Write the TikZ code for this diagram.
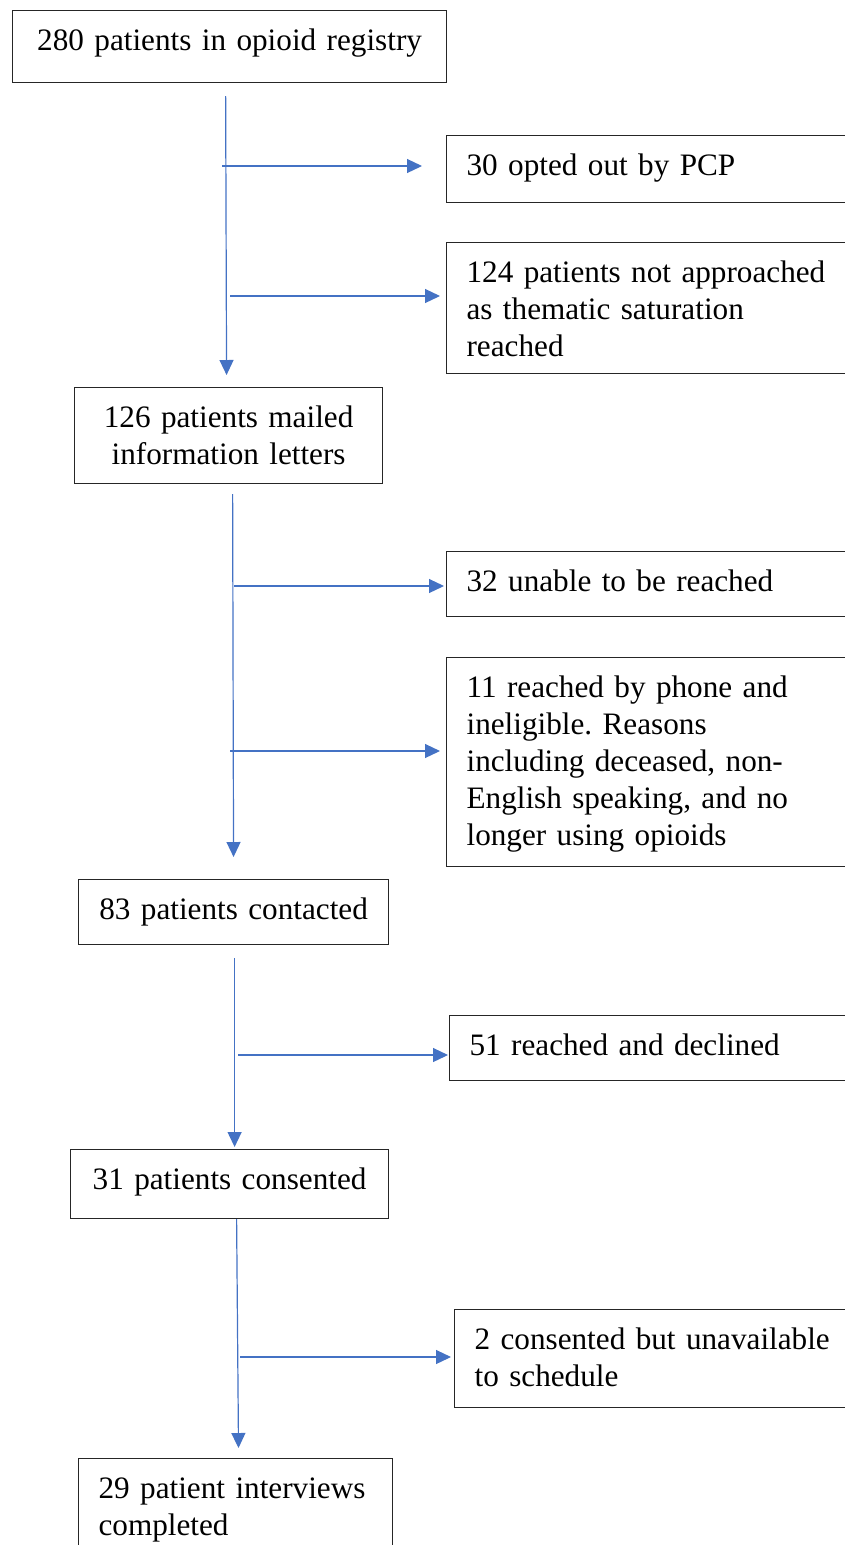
\documentclass[tikz,border=0pt]{standalone}
\usepackage{fontspec}
\setmainfont{Liberation Serif}
\usetikzlibrary{arrows.meta, calc}
\definecolor{flowblue}{HTML}{4472C4}
\frenchspacing

\begin{document}
\begin{tikzpicture}[x=1pt, y=1pt,
  box/.style={draw=black!85, line width=1.2pt, anchor=north west, inner ysep=0pt,
    text height=40pt, font=\fontsize{31.2pt}{37pt}\selectfont},
  cbox/.style={box, align=center, inner xsep=5pt},
  rbox/.style={box, align=left, inner xsep=20pt},
  flow/.style={draw=flowblue, line width=1.2pt, -{Triangle[length=15pt, width=14pt]}}]
\clip (0,0) rectangle (845,-1545);
% boxes down the left
\node[cbox, text width=424pt, text depth=32pt] (reg) at (12,-10) {280 patients in opioid registry};
\node[cbox, text width=298pt, text depth=56pt] (mailed) at (74,-387) {126 patients mailed\\information letters};
\node[cbox, text width=300pt, text depth=25pt] (contacted) at (78,-879) {83 patients contacted};
\node[cbox, text width=308pt, text depth=29pt] (consented) at (70,-1149) {31 patients consented};
\node[rbox, text width=274pt, text depth=60pt] (done) at (78,-1458) {29 patient interviews\\completed};
% boxes on the right
\node[rbox, text width=374pt, text depth=27pt] (optout) at (446,-135) {30 opted out by PCP};
\node[rbox, text width=374pt, text depth=91pt] (notappr) at (446,-242) {124 patients not approached\\as thematic saturation\\reached};
\node[rbox, text width=374pt, text depth=25pt] (unreach) at (446,-551) {32 unable to be reached};
\node[rbox, text width=374pt, text depth=169pt] (inelig) at (446,-657) {11 reached by phone and\\ineligible. Reasons\\including deceased, non-\\English speaking, and no\\longer using opioids};
\node[rbox, text width=371pt, text depth=25pt] (declined) at (449,-1015) {51 reached and declined};
\node[rbox, text width=366pt, text depth=58pt] (unavail) at (454,-1309) {2 consented but unavailable\\to schedule};
% main flow
\draw[flow, shorten <=13pt, shorten >=12pt] ([xshift=-4pt]reg.south) -- ([xshift=-2pt]mailed.north);
\draw[flow, shorten <=10pt, shorten >=22pt] ([xshift=4pt]mailed.south) -- (contacted.north);
\draw[flow, shorten <=13pt, shorten >=2pt] ([xshift=1pt]contacted.south) -- ([xshift=5pt]consented.north);
\draw[flow, shorten >=10pt] ([xshift=7pt]consented.south) -- ([xshift=3pt]done.north);
% side branches
\coordinate (b1) at (222,-166);
\coordinate (b2) at (230,-296);
\coordinate (b3) at (234,-586);
\coordinate (b4) at (230,-751);
\coordinate (b5) at (238,-1055);
\coordinate (b6) at (240,-1357);
\draw[flow, shorten >=24pt] (b1) -- (b1 -| optout.west);
\draw[flow, shorten >=6pt] (b2) -- (b2 -| notappr.west);
\draw[flow, shorten >=2pt] (b3) -- (b3 -| unreach.west);
\draw[flow, shorten >=6pt] (b4) -- (b4 -| inelig.west);
\draw[flow, shorten >=1pt] (b5) -- (b5 -| declined.west);
\draw[flow, shorten >=3pt] (b6) -- (b6 -| unavail.west);
\end{tikzpicture}
\end{document}
